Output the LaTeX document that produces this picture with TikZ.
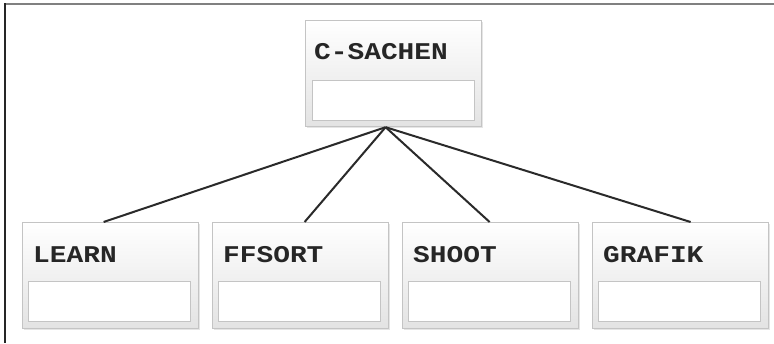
\documentclass[tikz,border=0pt]{standalone}
\usepackage{fontspec}
\setmonofont{Liberation Mono}
\usetikzlibrary{shadows}
\definecolor{boxline}{HTML}{C4C4C4}
\definecolor{conn}{HTML}{2A2A2A}
\newcommand{\wide}[1]{\scalebox{1.16}[1]{#1}}
\begin{document}
\begin{tikzpicture}[x=1pt,y=1pt,
  outerbox/.style={draw=boxline, line width=1.2pt, top color=white, bottom color=black!11,
    minimum width=176pt, minimum height=106pt, anchor=north west, inner sep=0pt,
    drop shadow={shadow xshift=1.5pt, shadow yshift=-1.5pt, opacity=0.25, fill=black!40}},
  innerbox/.style={draw=boxline, line width=1.2pt, fill=white,
    minimum width=162pt, minimum height=40pt, anchor=north west, inner sep=0pt},
  lbl/.style={font=\ttfamily\bfseries\fontsize{24}{28}\selectfont, text=black!85, anchor=base west, inner sep=0pt},
  conn/.style={draw=conn, line width=2pt}]
\useasboundingbox (0,0) rectangle (774,343);
\fill[white] (0,0) rectangle (774,343);
% frame
\draw[black!50, line width=2pt] (5,338.5) -- (774,338.5);
\draw[black!85, line width=2pt] (5,339.5) -- (5,0);
% top box
\node[outerbox] (csachen) at (305,323) {};
\node[innerbox] (csachenin) at (312,263) {};
\node[lbl] (csachenlbl) at (314,283) {\wide{C-SACHEN}};
% bottom boxes
\node[outerbox] (learn) at (22,121) {};
\node[innerbox] (learnin) at (28,62) {};
\node[lbl] (learnlbl) at (33,81) {\wide{LEARN}};
\node[outerbox] (ffsort) at (212,121) {};
\node[innerbox] (ffsortin) at (218,62) {};
\node[lbl] (ffsortlbl) at (223,81) {\wide{FFSORT}};
\node[outerbox] (shoot) at (402,121) {};
\node[innerbox] (shootin) at (408,62) {};
\node[lbl] (shootlbl) at (413,81) {\wide{SHOOT}};
\node[outerbox] (grafik) at (592,121) {};
\node[innerbox] (grafikin) at (598,62) {};
\node[lbl] (grafiklbl) at (603,81) {\wide{GRAFIK}};
% connectors
\coordinate (hub) at ([xshift=-8pt]csachen.south);
\draw[conn] (hub) -- ([xshift=-7pt]learn.north);
\draw[conn] (hub) -- ([xshift=4pt]ffsort.north);
\draw[conn] (hub) -- ([xshift=-1pt]shoot.north);
\draw[conn] (hub) -- ([xshift=10pt]grafik.north);
\end{tikzpicture}
\end{document}
